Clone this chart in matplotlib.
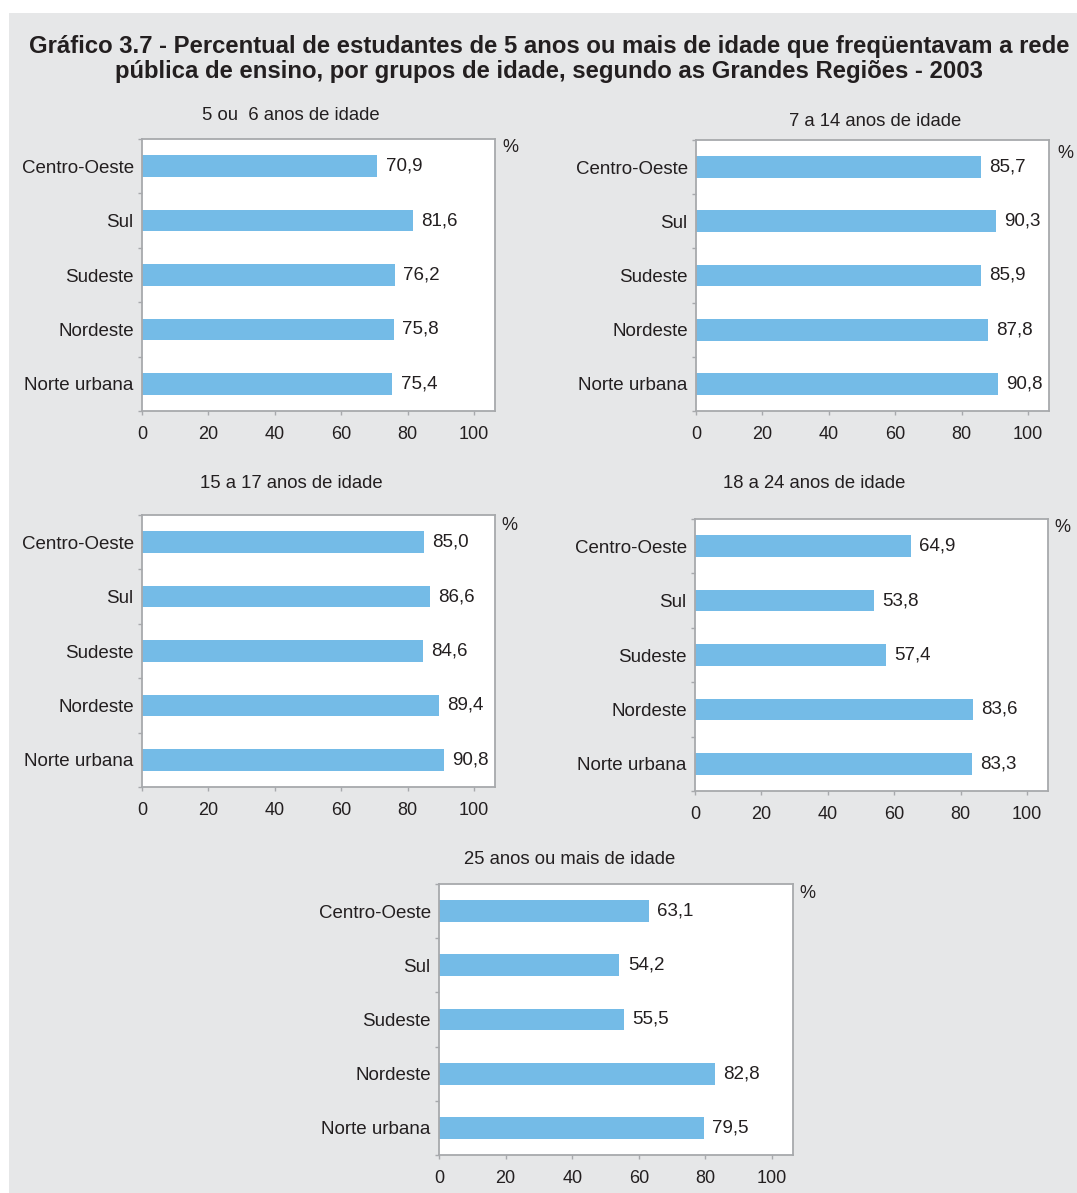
import matplotlib
matplotlib.use("Agg")
import matplotlib.pyplot as plt
from matplotlib.patches import Rectangle

plt.rcParams['font.family'] = ['Liberation Sans', 'DejaVu Sans']

# data
regions = ['Centro-Oeste', 'Sul', 'Sudeste', 'Nordeste', 'Norte urbana']
age_groups = ['5 ou  6 anos de idade', '7 a 14 anos de idade', '15 a 17 anos de idade',
              '18 a 24 anos de idade', '25 anos ou mais de idade']
vals_5_6 = [70.9, 81.6, 76.2, 75.8, 75.4]
vals_7_14 = [85.7, 90.3, 85.9, 87.8, 90.8]
vals_15_17 = [85.0, 86.6, 84.6, 89.4, 90.8]
vals_18_24 = [64.9, 53.8, 57.4, 83.6, 83.3]
vals_25 = [63.1, 54.2, 55.5, 82.8, 79.5]
xticks = [0, 20, 40, 60, 80, 100]

title = ('Gráfico 3.7 - Percentual de estudantes de 5 anos ou mais de idade que freqüentavam a rede\n'
         'pública de ensino, por grupos de idade, segundo as Grandes Regiões - 2003')

bar_color = '#74bbe7'
spine_color = '#a7a9ac'
text_color = '#231f20'
bg_color = '#e6e7e8'

W, H = 1077, 1193
fig = plt.figure(figsize=(W / 100, H / 100), dpi=100, facecolor='white')

# gray panel behind everything
fig.patches.append(Rectangle((9 / W, 0), 1 - 9 / W, 1 - 13 / H, transform=fig.transFigure,
                             facecolor=bg_color, edgecolor='none', zorder=-10))

fig.text(549 / W, 1 - 59 / H, title, ha='center', va='center', fontsize=17.2,
         fontweight='bold', color=text_color, linespacing=1.06)

# layout in pixels: axes box (left, top, right, bottom), subtitle centre, % mark
boxes = [(142, 139, 495, 411), (696, 140, 1049, 411), (142, 515, 495, 787),
         (695, 519, 1048, 791), (439, 884, 793, 1155)]
sub_pos = [(291, 115), (875, 121), (291, 484), (814, 484), (570, 860)]
pct_pos = [(510, 147), (1065, 153), (509, 525), (1062, 528), (807, 893)]
series = [vals_5_6, vals_7_14, vals_15_17, vals_18_24, vals_25]

for (l, t, r, b), (sx, sy), (px, py), vals, name in zip(boxes, sub_pos, pct_pos, series, age_groups):
    ax = fig.add_axes([l / W, 1 - b / H, (r - l) / W, (b - t) / H])
    ax.set_facecolor('white')
    ypos = list(range(len(regions)))
    ax.barh(ypos, vals, height=0.4, color=bar_color, zorder=2)
    ax.set_xlim(0, 106.3)
    ax.set_ylim(len(regions) - 0.5, -0.5)
    ax.set_yticks(ypos)
    ax.set_yticklabels(regions)
    ax.set_yticks([i - 0.5 for i in range(len(regions) + 1)], minor=True)
    ax.set_xticks(xticks)
    ax.tick_params(axis='y', which='major', length=0, pad=6, labelsize=13.5, labelcolor=text_color)
    ax.tick_params(axis='y', which='minor', length=3, width=1, color=spine_color)
    ax.tick_params(axis='x', length=3, width=1, color=spine_color, pad=8,
                   labelsize=13, labelcolor=text_color)
    for s in ax.spines.values():
        s.set_color(spine_color)
        s.set_linewidth(1.3)
    for y, v in zip(ypos, vals):
        ax.annotate(f'{v:.1f}'.replace('.', ','), xy=(v, y), xytext=(6, 0),
                    textcoords='offset points', ha='left', va='center',
                    fontsize=13.5, color=text_color)
    fig.text(sx / W, 1 - sy / H, name, ha='center', va='center',
             fontsize=13.3, color=text_color)
    fig.text(px / W, 1 - py / H, '%', ha='center', va='center',
             fontsize=13, color=text_color)

fig.savefig('out.png', dpi=100, facecolor='white')
